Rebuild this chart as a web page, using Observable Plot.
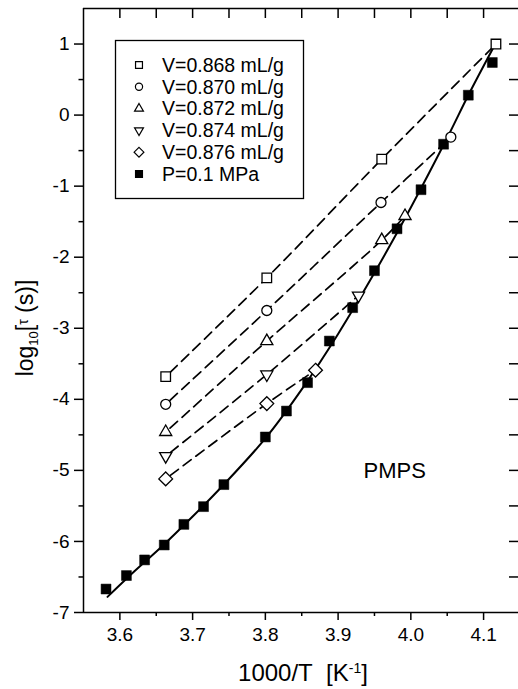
<!DOCTYPE html>
<html><head><meta charset="utf-8">
<script src="https://cdn.jsdelivr.net/npm/d3@7"></script>
<script src="https://cdn.jsdelivr.net/npm/@observablehq/plot@0.6"></script>
<style>
body{margin:0;background:#fff}
#chart{width:518px;height:689px}
</style>
</head><body><div id="chart"></div>
<script>
// ---- data ----
const ambX = [3.581, 3.609, 3.634, 3.661, 3.688, 3.715, 3.743, 3.800, 3.829, 3.858, 3.888, 3.920, 3.950, 3.981, 4.014, 4.045, 4.079, 4.112];
const ambY = [-6.67, -6.48, -6.26, -6.05, -5.76, -5.51, -5.20, -4.53, -4.165, -3.765, -3.18, -2.71, -2.19, -1.60, -1.05, -0.41, 0.28, 0.74];

const fitX = [3.583, 3.62, 3.66, 3.70, 3.74, 3.80, 3.85, 3.90, 3.95, 4.00, 4.05, 4.08, 4.115];
const fitY = [-6.78, -6.42, -6.05, -5.65, -5.23, -4.55, -3.86, -3.08, -2.22, -1.30, -0.32, 0.30, 0.98];

const v868X = [3.663, 3.802, 3.960, 4.117];
const v868Y = [-3.68, -2.29, -0.62, 1.00];
const v870X = [3.663, 3.802, 3.959, 4.055];
const v870Y = [-4.07, -2.75, -1.23, -0.31];
const v872X = [3.663, 3.802, 3.960, 3.992];
const v872Y = [-4.46, -3.18, -1.76, -1.42];
const v874X = [3.663, 3.802, 3.928];
const v874Y = [-4.80, -3.65, -2.54];
const v876X = [3.663, 3.802, 3.869];
const v876Y = [-5.12, -4.06, -3.59];

const seriesNames = ["V=0.868 mL/g", "V=0.870 mL/g", "V=0.872 mL/g", "V=0.874 mL/g", "V=0.876 mL/g"];
const ambName = "P=0.1 MPa";
const annotation = "PMPS";

const xMajor = [3.6, 3.7, 3.8, 3.9, 4.0, 4.1];
const xMinor = [3.65, 3.75, 3.85, 3.95, 4.05];
const xTop = [3.6, 3.65, 3.7, 3.75, 3.8, 3.85, 3.9, 3.95, 4.0, 4.05, 4.1];
const yMajor = [1, 0, -1, -2, -3, -4, -5, -6, -7];
const yMinor = [0.5, -0.5, -1.5, -2.5, -3.5, -4.5, -5.5, -6.5];
const yRight = [1, 0.5, 0, -0.5, -1, -1.5, -2, -2.5, -3, -3.5, -4, -4.5, -5, -5.5, -6, -6.5];

// ---- tables ----
const zip = (xs, ys, s) => xs.map((x, i) => ({x, y: ys[i], s}));
const ambient = zip(ambX, ambY, ambName);
const fit = zip(fitX, fitY, "fit");
const vSets = [[v868X, v868Y], [v870X, v870Y], [v872X, v872Y], [v874X, v874Y], [v876X, v876Y]]
  .map(([xs, ys], i) => zip(xs, ys, seriesNames[i]));
const vAll = vSets.flat();

// symbol styles (per series)
const symStyle = [
  {symbol: "square", r: 5.4, rotate: 0},
  {symbol: "circle", r: 5, rotate: 0},
  {symbol: "triangle", r: 4.5, rotate: 0},
  {symbol: "triangle", r: 4.5, rotate: 180},
  {symbol: "diamond2", r: 6.2, rotate: 0}
];

const FONT = "'Liberation Sans', Arial, Helvetica, sans-serif";
const W = 518, H = 689, mL = 83, mR = 0, mT = 8, mB = 77;
const innerW = W - mL - mR, innerH = H - mT - mB;

const plot = Plot.plot({
  width: W, height: H,
  marginLeft: mL, marginRight: mR, marginTop: mT, marginBottom: mB,
  x: {domain: [3.55, 4.148]},
  y: {domain: [-7, 1.5]},
  style: {fontFamily: FONT, fontSize: "19px", color: "black", background: "white", overflow: "visible"},
  marks: [
    // frame lines (left, top, bottom)
    Plot.ruleX([3.55], {stroke: "black", strokeWidth: 1.5}),
    Plot.ruleY([1.5], {stroke: "black", strokeWidth: 1.5}),
    Plot.ruleY([-7], {stroke: "black", strokeWidth: 1.5}),
    // inward ticks on top and right
    Plot.ruleX(xTop, {x: d => d, insetBottom: innerH - 10, stroke: "black", strokeWidth: 1.5}),
    Plot.ruleY(yRight, {y: d => d, insetLeft: innerW - 9, stroke: "black", strokeWidth: 1.5}),
    // axes
    Plot.axisX(xMajor, {tickSize: 8, tickPadding: 7, tickFormat: d => d.toFixed(1), label: null, strokeWidth: 1.5, fontSize: 19}),
    Plot.axisX(xMinor, {tickSize: 4, tickFormat: () => "", label: null, strokeWidth: 1.5}),
    Plot.axisY(yMajor, {tickSize: 9, tickPadding: 5, tickFormat: d => String(d), label: null, strokeWidth: 1.5, fontSize: 19}),
    Plot.axisY(yMinor, {tickSize: 4.5, tickFormat: () => "", label: null, strokeWidth: 1.5}),
    // dashed fits
    Plot.line(vAll, {x: "x", y: "y", z: "s", curve: "catmull-rom", stroke: "black", strokeWidth: 1.7, strokeDasharray: "10,6", strokeDashoffset: 10}),
    // solid fit
    Plot.line(fit, {x: "x", y: "y", curve: "catmull-rom", stroke: "black", strokeWidth: 2}),
    // ambient points
    Plot.dot(ambient, {x: "x", y: "y", symbol: "square", r: 5.6, fill: "black", stroke: "black", strokeWidth: 0.5}),
    // isochoric points
    ...vSets.map((data, i) => Plot.dot(data, {x: "x", y: "y", symbol: symStyle[i].symbol, r: symStyle[i].r, rotate: symStyle[i].rotate, fill: "white", stroke: "black", strokeWidth: 1.3})),
    // annotation
    Plot.text([annotation], {text: d => d, frameAnchor: "left", dx: 280, dy: 160, textAnchor: "start", lineAnchor: "middle", fontSize: 22})
  ]
});

document.getElementById("chart").appendChild(plot);

// ---- titles and legend ----
const svg = d3.select(plot);

// x title
const xt = svg.append("text")
  .attr("x", 303).attr("y", 681)
  .attr("text-anchor", "middle")
  .style("font-family", FONT).style("font-size", "24px").attr("fill", "black");
xt.append("tspan").text("1000/T\u00a0\u00a0[K");
xt.append("tspan").attr("baseline-shift", "super").style("font-size", "14px").text("-1");
xt.append("tspan").text("]");

// y title
const yt = svg.append("text")
  .attr("transform", "translate(33,328) rotate(-90)")
  .attr("text-anchor", "middle")
  .style("font-family", FONT).style("font-size", "23px").attr("fill", "black");
yt.append("tspan").text("log");
yt.append("tspan").attr("dy", "5").style("font-size", "13px").text("10");
yt.append("tspan").attr("dy", "-5").text("[");
yt.append("tspan").attr("dy", "-5").style("font-size", "14px").text("\u03c4");
yt.append("tspan").attr("dy", "5").text(" (s)]");

// legend
const lg = svg.append("g").attr("text-anchor", "start");
lg.append("rect").attr("x", 115.5).attr("y", 40.5).attr("width", 188).attr("height", 158)
  .attr("fill", "white").attr("stroke", "black").attr("stroke-width", 1.3);
const symMap = {square: d3.symbolSquare, circle: d3.symbolCircle, triangle: d3.symbolTriangle, diamond2: d3.symbolDiamond2};
const legendRows = seriesNames.map((n, i) => ({name: n, ...symStyle[i], fill: "white"}))
  .concat([{name: ambName, symbol: "square", r: 4, rotate: 0, fill: "black"}]);
legendRows.forEach((row, i) => {
  const cy = 65 + i * 21.8;
  const rr = row.symbol === "square" ? 3.9 : row.symbol === "circle" ? 3.6 : row.symbol === "diamond2" ? 4.4 : 3.3;
  lg.append("path")
    .attr("d", d3.symbol(symMap[row.symbol], rr * rr * Math.PI)())
    .attr("transform", `translate(139,${cy}) rotate(${row.rotate})`)
    .attr("fill", row.fill).attr("stroke", "black").attr("stroke-width", 1.2);
  lg.append("text").attr("x", 162).attr("y", cy).attr("dy", "0.35em")
    .attr("text-anchor", "start")
    .style("font-family", FONT).style("font-size", "19.5px").attr("fill", "black").text(row.name);
});
</script>
</body></html>
